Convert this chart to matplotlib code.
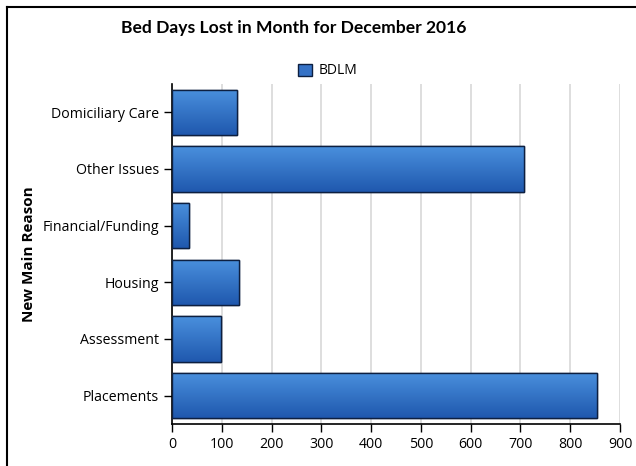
import numpy as np
import matplotlib
matplotlib.use("Agg")
import matplotlib.pyplot as plt
from matplotlib.patches import Patch
from matplotlib.lines import Line2D

reasons = ["Domiciliary Care", "Other Issues", "Financial/Funding",
           "Housing", "Assessment", "Placements"]
bdlm = [131, 707, 35, 134, 99, 854]
x_ticks = list(range(0, 901, 100))

plt.rcParams["font.family"] = ["Open Sans", "DejaVu Sans"]

fig = plt.figure(figsize=(6.36, 4.66), dpi=100)
ax = fig.add_axes([172/636, 42/466, 448/636, 340/466])

ypos = np.arange(len(reasons))[::-1]
bars = ax.barh(ypos, bdlm, height=0.8, color="#3572c6",
               edgecolor="#0d1f40", linewidth=1.0, zorder=3)

# vertical gradient inside each bar
grad = np.linspace(0, 1, 256).reshape(-1, 1)
cmap = matplotlib.colors.LinearSegmentedColormap.from_list(
    "bar", ["#4a90dd", "#1f58ae"])
for b in bars:
    x0, y0 = b.get_x(), b.get_y()
    w, h = b.get_width(), b.get_height()
    im = ax.imshow(grad, cmap=cmap, aspect="auto", origin="upper",
                   extent=(x0, x0 + w, y0, y0 + h), zorder=3.5)
    im.set_clip_path(b)
    ax.barh(y0 + h/2, w, height=h, fill=False,
            edgecolor="#0d1f40", linewidth=1.0, zorder=4)

ax.set_xlim(0, 900)
ax.set_ylim(-0.5, len(reasons) - 0.5)
ax.set_xticks(x_ticks)
ax.set_yticks(ypos)
ax.set_yticklabels(reasons)
ax.tick_params(axis="both", labelsize=10.2, length=6, width=1,
               color="black", direction="out")
ax.grid(axis="x", color="#d8d8d8", linewidth=1.2, zorder=0)
for s in ["top", "right"]:
    ax.spines[s].set_visible(False)
for s in ["left", "bottom"]:
    ax.spines[s].set_linewidth(1.2)
ax.set_ylabel("New Main Reason", fontsize=11, fontweight="bold")
ax.yaxis.set_label_coords(-0.303, 0.5)

fig.text(294/636, 1 - 28/466, "Bed Days Lost in Month for December 2016",
         ha="center", va="center", fontsize=12.6, fontweight="bold",
         family="Lato")

handle = Patch(facecolor="#3572c6", edgecolor="#0d1f40", linewidth=1.0)
fig.legend([handle], ["BDLM"], loc="center", bbox_to_anchor=(328/636, 1 - 71/466),
           frameon=False, fontsize=10, handlelength=1.0, handleheight=1.0,
           handletextpad=0.5)

# outer frame lines (left and top only visible)
fig.add_artist(Line2D([7/636, 7/636], [0, 1 - 7/466], color="black",
                      linewidth=1.5, transform=fig.transFigure))
fig.add_artist(Line2D([7/636, 1], [1 - 7/466, 1 - 7/466], color="black",
                      linewidth=1.5, transform=fig.transFigure))

fig.savefig("out.png", dpi=100)
